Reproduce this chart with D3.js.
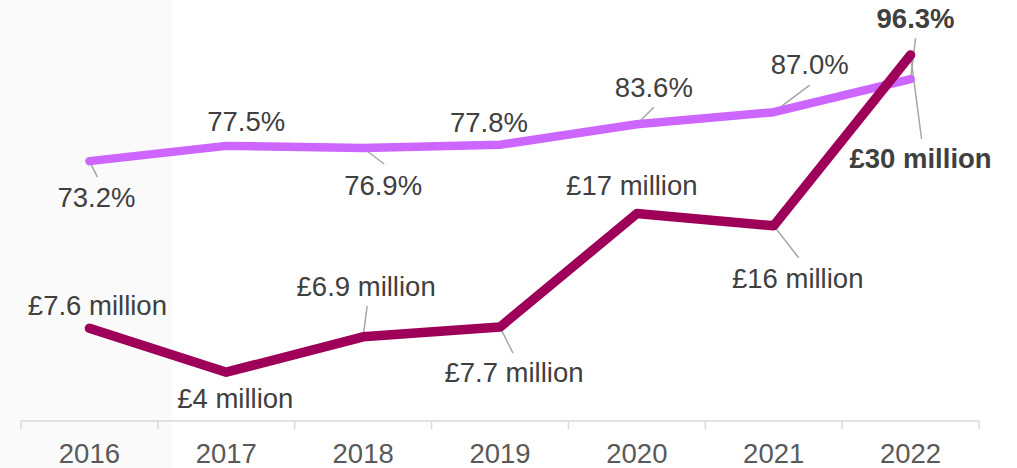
<!DOCTYPE html>
<html>
<head>
<meta charset="utf-8">
<script src="https://cdn.jsdelivr.net/npm/d3@7"></script>
<style>
  html, body { margin: 0; padding: 0; background: #ffffff; }
  svg { display: block; font-family: "Liberation Sans", Arial, sans-serif; }
</style>
</head>
<body>
<svg id="chart" width="1017" height="468"></svg>
<script>
// Years on the category axis
const years = ["2016", "2017", "2018", "2019", "2020", "2021", "2022"];

// Share (%) series
const shareValues = [73.2, 77.5, 76.9, 77.8, 83.6, 87.0, 96.3];
const shareLabels = ["73.2%", "77.5%", "76.9%", "77.8%", "83.6%", "87.0%", "96.3%"];

// Amount (£ million) series
const amountValues = [7.6, 4, 6.9, 7.7, 17, 16, 30];
const amountLabels = ["£7.6 million", "£4 million", "£6.9 million", "£7.7 million", "£17 million", "£16 million", "£30 million"];

// Label placement relative to each point: text offset, optional leader end, bold flag
const shareLabelLayout = [
  { dx: 7,  dy: 46,  lx: 8,  ly: 16 },
  { dx: 20, dy: -15 },
  { dx: 20, dy: 47,  lx: 21, ly: 16 },
  { dx: -11, dy: -13 },
  { dx: 17, dy: -27, lx: 17, ly: -17 },
  { dx: 36, dy: -38, lx: 36, ly: -27 },
  { dx: 5,  dy: -51, lx: 5,  ly: -41, bold: true }
];
const amountLabelLayout = [
  { dx: 8,  dy: -13 },
  { dx: 9,  dy: 36 },
  { dx: 3,  dy: -41, lx: 4,  ly: -31 },
  { dx: 14, dy: 55,  lx: 13, ly: 26 },
  { dx: -5, dy: -19 },
  { dx: 24, dy: 62,  lx: 25, ly: 32 },
  { dx: 10, dy: 113, lx: 11, ly: 84, bold: true }
];

const svg = d3.select("#chart");
const W = 1017, H = 468;
const axisY = 421;

// Shaded band on the left edge
svg.append("rect")
  .attr("x", 0).attr("y", 0)
  .attr("width", 172).attr("height", H)
  .attr("fill", "#fafafa");

const x = d3.scaleBand().domain(years).range([21, 979]).padding(0);
const yShare = d3.scaleLinear().domain([0, 100]).range([axisY, 66]);
const yAmount = d3.scaleLinear().domain([0, 30]).range([axisY, 55]);

const cx = d => x(d) + x.bandwidth() / 2;

// Category axis with ticks between categories
const axisG = svg.append("g").attr("transform", `translate(0,${axisY})`);
axisG.append("line")
  .attr("x1", 21).attr("x2", 979)
  .attr("stroke", "#d9d9d9").attr("stroke-width", 1.5);
const tickXs = years.map(d => x(d)).concat([x(years[years.length - 1]) + x.bandwidth()]);
axisG.selectAll("line.tick")
  .data(tickXs)
  .enter().append("line")
  .attr("class", "tick")
  .attr("x1", d => d).attr("x2", d => d)
  .attr("y1", 0).attr("y2", 8)
  .attr("stroke", "#d9d9d9").attr("stroke-width", 1.5);
axisG.selectAll("text.year")
  .data(years)
  .enter().append("text")
  .attr("class", "year")
  .attr("x", d => cx(d))
  .attr("y", 42)
  .attr("text-anchor", "middle")
  .attr("font-size", 27.5)
  .attr("fill", "#595959")
  .text(d => d);

function drawLeaders(values, scale, layout) {
  svg.append("g").selectAll("line")
    .data(values.map((v, i) => ({ v, i, l: layout[i] })).filter(d => d.l.lx !== undefined))
    .enter().append("line")
    .attr("x1", d => cx(years[d.i]))
    .attr("y1", d => scale(d.v))
    .attr("x2", d => cx(years[d.i]) + d.l.lx)
    .attr("y2", d => scale(d.v) + d.l.ly)
    .attr("stroke", "#a6a6a6")
    .attr("stroke-width", 1.5);
}

function drawLabels(values, scale, labels, layout) {
  svg.append("g").selectAll("text")
    .data(values.map((v, i) => ({ v, i, l: layout[i] })))
    .enter().append("text")
    .attr("x", d => cx(years[d.i]) + d.l.dx)
    .attr("y", d => scale(d.v) + d.l.dy)
    .attr("text-anchor", "middle")
    .attr("font-size", 27.5)
    .attr("font-weight", d => d.l.bold ? "bold" : "normal")
    .attr("fill", "#404040")
    .text(d => labels[d.i]);
}

drawLeaders(shareValues, yShare, shareLabelLayout);
drawLeaders(amountValues, yAmount, amountLabelLayout);

const shareLine = d3.line().x((d, i) => cx(years[i])).y(d => yShare(d));
const amountLine = d3.line().x((d, i) => cx(years[i])).y(d => yAmount(d));

svg.append("path")
  .datum(shareValues)
  .attr("d", shareLine)
  .attr("fill", "none")
  .attr("stroke", "#cc66ff")
  .attr("stroke-width", 8.5)
  .attr("stroke-linecap", "round")
  .attr("stroke-linejoin", "round");

svg.append("path")
  .datum(amountValues)
  .attr("d", amountLine)
  .attr("fill", "none")
  .attr("stroke", "#9e0059")
  .attr("stroke-width", 9.5)
  .attr("stroke-linecap", "round")
  .attr("stroke-linejoin", "round");

drawLabels(shareValues, yShare, shareLabels, shareLabelLayout);
drawLabels(amountValues, yAmount, amountLabels, amountLabelLayout);
</script>
</body>
</html>
